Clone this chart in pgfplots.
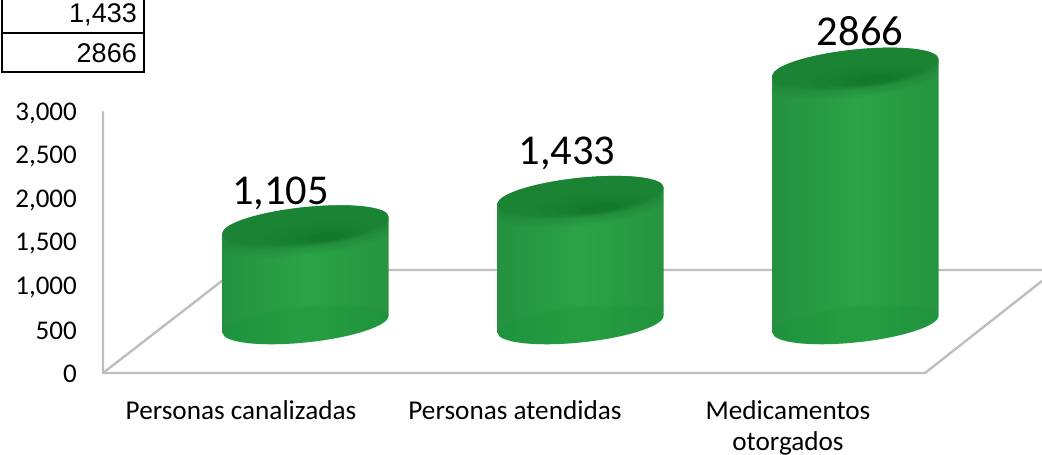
\documentclass[border=0pt]{standalone}
\usepackage{pgfplots}
\usepackage{fontspec}
\pgfplotsset{compat=1.18}
\setmainfont{Carlito}
\newfontfamily\arialf{Liberation Sans}
\definecolor{axgray}{RGB}{190,190,190}
\definecolor{cyltopc}{RGB}{27,132,52}
\definecolor{cylrim}{RGB}{28,125,52}
\definecolor{cyldark}{RGB}{8,105,35}
\definecolor{cylbot}{RGB}{24,150,58}
\pgfdeclarehorizontalshading{cylbody}{100bp}{
 rgb(0bp)=(0.12,0.44,0.20);
 rgb(7bp)=(0.15,0.50,0.24);
 rgb(25bp)=(0.14,0.57,0.25);
 rgb(50bp)=(0.17,0.64,0.28);
 rgb(75bp)=(0.15,0.58,0.25);
 rgb(92bp)=(0.12,0.47,0.22);
 rgb(100bp)=(0.06,0.36,0.15)}
\newcommand\slell[7]{% opacity, colour, cx, cy, ax, ay, b
 \begin{pgfscope}\pgfsetfillopacity{#1}\pgfsetfillcolor{#2}%
 \pgfpathellipse{\pgfpoint{#3pt}{#4pt}}{\pgfpoint{#5pt}{#6pt}}{\pgfpoint{0pt}{#7pt}}%
 \pgfusepathqfill\end{pgfscope}}
\pgfdeclareplotmark{cyl}{%
 \pgfmathsetmacro\hh{\h*0.0895}%
 \path[shading=cylbody,draw=none,x=1pt,y=1pt] (-83,-8.3) .. controls (-83,1.6) and (-45.8,13.4) .. (0,18)
   .. controls (45.8,22.6) and (83,18.2) .. (83,8.3)
   -- (83,8.3-\hh) .. controls (83,-1.9-\hh) and (45.8,-13.9-\hh) .. (0,-18.5-\hh)
   .. controls (-45.8,-23.1-\hh) and (-83,-18.5-\hh) .. (-83,-8.3-\hh) -- cycle;
 \pgfmathsetmacro\ba{-\hh+0.5}\pgfmathsetmacro\bb{-\hh-0.5}\pgfmathsetmacro\bc{-\hh-1.5}%
 \slell{0.10}{cylbot}{0}{\ba}{83}{8.3}{18}%
 \slell{0.12}{cylbot}{0}{\bb}{83}{8.3}{17.5}%
 \slell{0.14}{cylbot}{0}{\bc}{83}{8.3}{17}%
 \slell{0.10}{cylrim}{0}{-14}{83}{8.3}{16}%
 \slell{0.10}{cylrim}{0}{-11}{83}{8.3}{17}%
 \slell{0.12}{cylrim}{0}{-8}{83}{8.3}{18}%
 \slell{0.15}{cylrim}{0}{-5}{83}{8.3}{18}%
 \slell{0.20}{cylrim}{0}{-3}{83}{8.3}{18}%
 \slell{0.35}{cylrim}{0}{-1.5}{83}{8.3}{18}%
 \slell{1}{cyltopc}{0}{0}{83}{8.3}{18}%
 \slell{0.07}{cyldark}{12}{-9}{55}{5.5}{12}%
 \slell{0.08}{cyldark}{15}{-10}{42}{4.2}{9}%
 \slell{0.10}{cyldark}{18}{-11}{30}{3}{7}%
 \slell{0.12}{cyldark}{20}{-12}{20}{2}{4.5}%
}
\pgfplotstableread{
x v
305.5 1105
580.5 1433
855.5 2866
}\bars
\begin{document}
\begin{tikzpicture}
\useasboundingbox (0,0) rectangle (1042pt,455pt);
\begin{scope}[x=1pt,y=-1pt,shift={(0pt,455pt)}]
 \draw[axgray,line width=2.4pt,line cap=round,line join=round] (103,112) -- (103,373) -- (925,373) -- (1042,281);
 \draw[axgray,line width=2.4pt,line cap=round] (103,373) -- (236,270) -- (1042,270);
\end{scope}
\begin{axis}[
 scale only axis,width=1042pt,height=455pt,
 xmin=0,xmax=1042,ymin=-1463.7,ymax=3620.1,
 clip=false,
 axis line style={draw=none},
 major tick length=0pt,
 xtick={241,515,788},
 xticklabels={Personas canalizadas,Personas atendidas,{Medicamentos\\otorgados}},
 xticklabel style={font=\fontsize{27.2}{31}\selectfont,align=center,anchor=north,yshift=55pt,inner sep=0pt},
 ytick={-558.7,-72.6,413.4,899.4,1385.5,1871.5,2357.5},
 yticklabels={0,{500},{1,000},{1,500},{2,000},{2,500},{3,000}},
 yticklabel style={font=\fontsize{27}{27}\selectfont,anchor=east,xshift=77pt,inner sep=0pt},
]
\addplot[scatter,only marks,mark=cyl,point meta=y,
 visualization depends on={y \as \h}] table[x=x,y=v] {\bars};
\end{axis}
\begin{scope}[x=1pt,y=-1pt,shift={(0pt,455pt)}]
 \node[font=\fontsize{42.5}{42}\selectfont] at (280.5,193) {1,105};
 \node[font=\fontsize{42.5}{42}\selectfont] at (567,153) {1,433};
 \node[font=\fontsize{42.5}{42}\selectfont] at (860,31) {2866};
 \draw[black,line width=2pt] (2,0) -- (2,72) -- (144,72) -- (144,0);
 \draw[black,line width=2pt] (2,33) -- (144,33);
 \node[font=\arialf\fontsize{27}{27}\selectfont,anchor=base east,inner sep=0pt] at (137,23) {1,433};
 \node[font=\arialf\fontsize{27}{27}\selectfont,anchor=base east,inner sep=0pt] at (137,63) {2866};
\end{scope}
\end{tikzpicture}
\end{document}
